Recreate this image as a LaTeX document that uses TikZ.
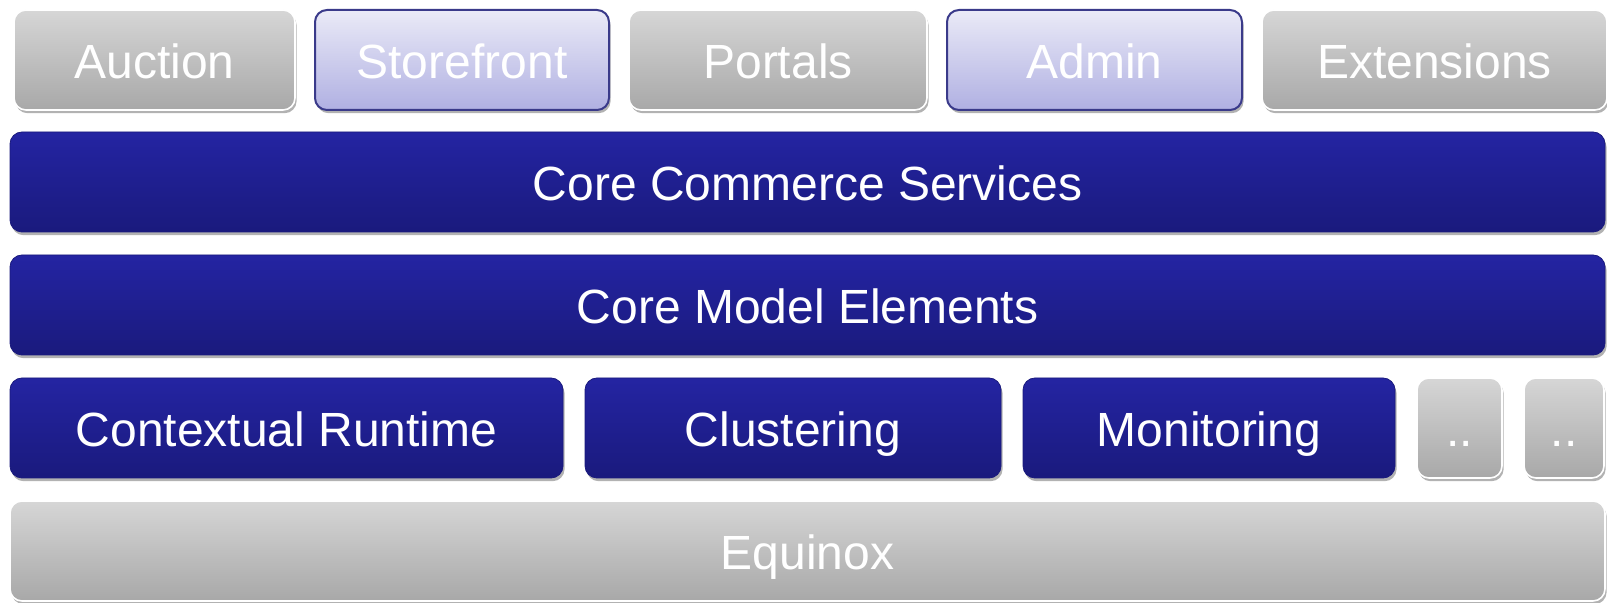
\documentclass[tikz,border=0pt]{standalone}
\usepackage{fontspec}
\setmainfont{Liberation Sans}
\usepackage{tikz}
\usetikzlibrary{shapes,shadows,calc}
\usetikzlibrary{positioning}
\definecolor{clrGreyTop}{RGB}{214,214,214}
\definecolor{clrGreyBot}{RGB}{168,168,168}
\definecolor{clrBlueTop}{RGB}{36,36,162}
\definecolor{clrBlueBot}{RGB}{26,26,125}
\definecolor{clrLilacTop}{RGB}{234,234,247}
\definecolor{clrLilacBot}{RGB}{176,176,226}
\definecolor{clrLilacBorder}{RGB}{58,58,138}
\tikzstyle{layer_style0}=[rounded corners=6pt, anchor=center, text centered,
text=white, inner sep=0pt, outer sep=0pt, minimum height=50pt,
text height=20pt, text depth=1pt,
font=\fontsize{24}{28}\selectfont,
drop shadow={shadow xshift=0.8pt, shadow yshift=-1.6pt, opacity=0.3, fill=black}]
\tikzstyle{greybox}=[layer_style0, draw=white, line width=0.8pt, top color=clrGreyTop, bottom color=clrGreyBot]
\tikzstyle{bluebox}=[layer_style0, draw=clrBlueBot, line width=0.4pt, top color=clrBlueTop, bottom color=clrBlueBot]
\tikzstyle{lilacbox}=[layer_style0, draw=clrLilacBorder, line width=1pt, top color=clrLilacTop, bottom color=clrLilacBot]
\tikzstyle{wide}=[minimum width=797.5pt]
\begin{document}
\begin{tikzpicture}[x=0.5pt, y=-0.5pt, node distance=10pt]
		\useasboundingbox (0,0) rectangle (1607,603) ;

		% applications
		\node[greybox, minimum width=140.5pt, anchor=north west] (auction) at (14,10) {Auction} ;
		\node[lilacbox, minimum width=147pt, right=of auction] (storefront) {Storefront} ;
		\node[greybox, minimum width=149pt, right=of storefront] (portals) {Portals} ;
		\node[lilacbox, minimum width=147.5pt, right=of portals] (admin) {Admin} ;
		\node[greybox, minimum width=172.5pt, right=of admin] (extensions) {Extensions} ;

		% core layers
		\node[bluebox, wide, anchor=north west] (commerce) at (10,132) {Core Commerce Services} ;
		\node[bluebox, wide, anchor=north west] (model) at (10,255) {Core Model Elements} ;

		% runtime services
		\begin{scope}[node distance=11pt]
			\node[bluebox, minimum width=276.5pt, anchor=north west] (runtime) at (10,378) {Contextual Runtime} ;
			\node[bluebox, minimum width=208pt, right=of runtime] (clustering) {Clustering} ;
			\node[bluebox, minimum width=186pt, right=of clustering] (monitoring) {Monitoring} ;
			\node[greybox, minimum width=42.5pt, right=of monitoring] (moreA) {..} ;
			\node[greybox, minimum width=40pt, right=of moreA] (moreB) {..} ;
		\end{scope}

		\node[greybox, wide, anchor=north west] (equinox) at (10,501) {Equinox} ;
	\end{tikzpicture}
\end{document}
